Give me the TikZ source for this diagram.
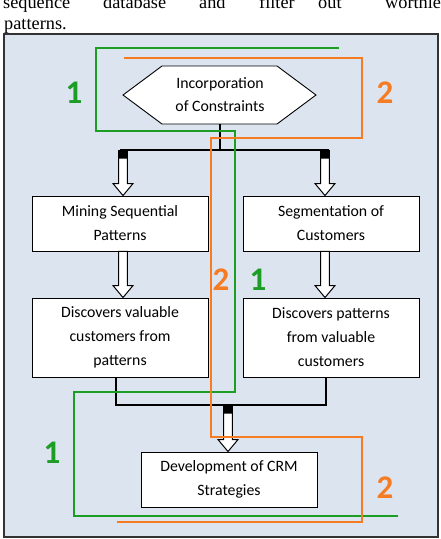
\documentclass[tikz,border=0pt]{standalone}
\usepackage{fontspec}
\setmainfont{Liberation Serif}
\newfontfamily\calibri{Carlito}
\usetikzlibrary{calc, positioning}

\definecolor{panel}{RGB}{220,228,240}
\definecolor{routeone}{RGB}{28,158,36}
\definecolor{routetwo}{RGB}{246,124,36}

% hollow block arrow, straight down from #1 to #2
\newcommand\feedarrow[2]{%
  \draw[fill=white, line width=1pt] let \p1=(#1), \p2=(#2) in
    (\x1-4.3pt,\y1) -- (\x1-4.3pt,\y2+12pt) -- (\x1-10pt,\y2+12pt) -- (\x1,\y2)
    -- (\x1+10pt,\y2+12pt) -- (\x1+4.3pt,\y2+12pt) -- (\x1+4.3pt,\y1) -- cycle;}

\tikzset{
  stage/.style={draw, fill=white, line width=0.9pt, minimum width=176pt,
    align=center, inner sep=0pt, font=\calibri\fontsize{15.8}{24}\selectfont},
  trunk/.style={line width=2.6pt, black},
  tab/.style={fill=black},
  routeA/.style={routeone, line width=2.9pt},
  routeB/.style={routetwo, line width=2.9pt},
  tagA/.style={text=routeone, font=\calibri\bfseries\fontsize{33}{33}\selectfont},
  tagB/.style={text=routetwo, font=\calibri\bfseries\fontsize{33}{33}\selectfont},
  prose/.style={anchor=base west, inner sep=0pt, font=\fontsize{18.3}{21}\selectfont}
}

\begin{document}
\begin{tikzpicture}[x=1pt, y=-1pt]
  \useasboundingbox (0,0) rectangle (441,539);
  \clip (0,0) rectangle (441,539);

  % running text above the figure
  \node[prose] (w1) at (3,8) {sequence};
  \node[prose] (w2) at (103,8) {database};
  \node[prose] (w3) at (199,8) {and};
  \node[prose] (w4) at (259,8) {filter};
  \node[prose] (w5) at (318,8) {out};
  \node[prose] (w6) at (385,8) {worthless};
  \node[prose] (w7) at (4,29) {patterns.};

  % panel
  \draw[fill=panel, draw=black!80, line width=1.4pt] (4,34) rectangle (438,537);

  % hexagon
  \draw[fill=white, line width=0.9pt] (123,95) -- (162,66) -- (277,66) -- (316,95)
    -- (277,124) -- (162,124) -- cycle;
  \node[align=center, minimum width=193pt, minimum height=58pt, inner sep=0pt,
    font=\calibri\fontsize{15.8}{23}\selectfont] (hex) at (220,95)
    {Incorporation\\of Constraints};

  % boxes
  \node[stage, minimum height=55pt] (mine) at (120,223.5) {Mining Sequential\\Patterns};
  \node[stage, minimum height=55pt] (segm) at (331,223.5) {Segmentation of\\Customers};
  \node[stage, minimum height=79pt] (valc) at (120,337.5) {Discovers valuable\\customers from\\patterns};
  \node[stage, minimum height=79pt] (valp) at (331,337.5) {Discovers patterns\\from valuable\\customers};
  \node[stage, minimum height=55pt] (crm) at (229,479.5) {Development of CRM\\Strategies};

  % split below the hexagon
  \coordinate (split) at (220,150);
  \coordinate (splitL) at (123,150);
  \coordinate (splitR) at (325,150);
  \draw[trunk] (hex.south) -- (split);
  \draw[trunk] ($(splitL)+(-3,0)$) -- ($(splitR)+(4,0)$);
  \fill[tab] ($(splitL)+(-4.8,0)$) rectangle ($(splitL)+(4.8,8)$);
  \fill[tab] ($(splitR)+(-4.8,0)$) rectangle ($(splitR)+(4.8,8)$);
  \feedarrow{$(splitL)+(0,8)$}{splitL |- mine.north}
  \feedarrow{$(splitR)+(0,8)$}{splitR |- segm.north}

  % down the columns
  \feedarrow{splitL |- mine.south}{splitL |- valc.north}
  \feedarrow{splitR |- segm.south}{splitR |- valp.north}

  % join above the last box
  \coordinate (joinL) at (116,405);
  \coordinate (joinR) at (326,405);
  \coordinate (join) at (228,405);
  \draw[trunk] (joinL |- valc.south) -- (joinL) -- (joinR) -- (joinR |- valp.south);
  \fill[tab] ($(join)+(-4.8,0)$) rectangle ($(join)+(4.8,8)$);
  \feedarrow{$(join)+(0,8)$}{join |- crm.north}

  % route 1
  \draw[routeA] (339,48) -| (96,131) -| (235,392) -| (74,516) -- (398,516);
  % route 2
  \draw[routeB] (124,58) -| (362,138) -| (211,437) -| (362,522) -- (117,522);

  % route numbers
  \node[tagA] (n1a) at (74,93) {1};
  \node[tagB] (n2a) at (385,93) {2};
  \node[tagB] (n2b) at (221,280) {2};
  \node[tagA] (n1b) at (258,280) {1};
  \node[tagA] (n1c) at (52,453) {1};
  \node[tagB] (n2c) at (385,488) {2};
\end{tikzpicture}
\end{document}
